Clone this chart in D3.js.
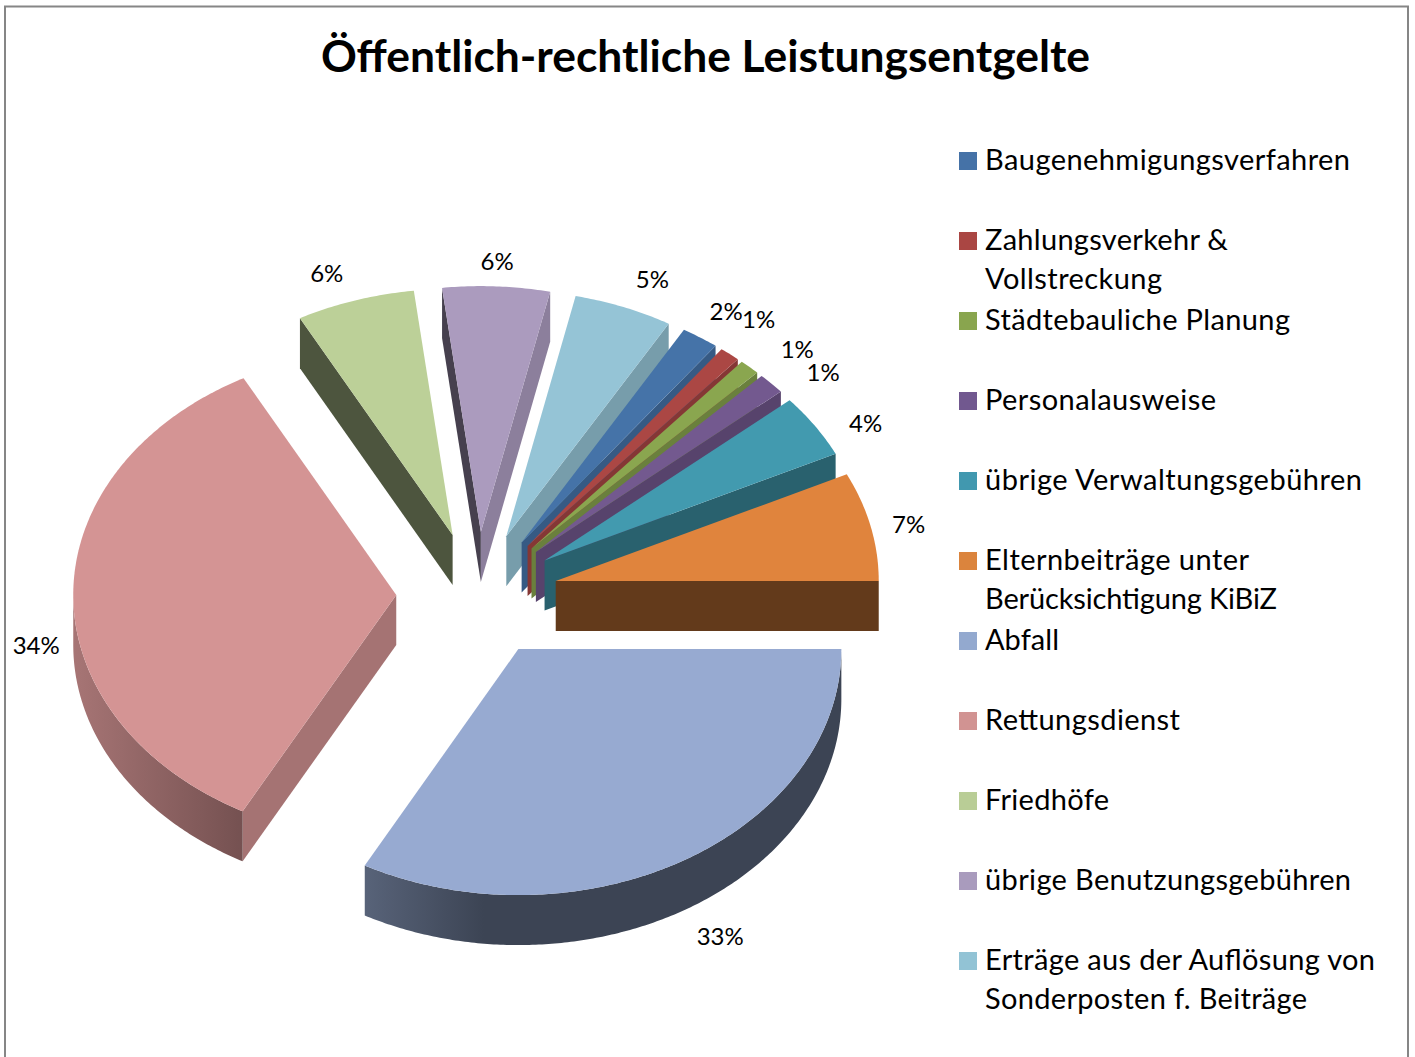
<!DOCTYPE html>
<html><head><meta charset="utf-8">
<script src="https://cdnjs.cloudflare.com/ajax/libs/d3/7.8.5/d3.min.js"></script>
<style>html,body{margin:0;padding:0;background:#fff;overflow:hidden}svg{display:block}
text{font-family:Lato,"Open Sans",sans-serif;fill:#000}</style></head><body>
<svg id="c" width="1415" height="1057"></svg>
<script>
const titleText = "Öffentlich-rechtliche Leistungsentgelte";
const categories = [["Baugenehmigungsverfahren"],["Zahlungsverkehr &","Vollstreckung"],["Städtebauliche Planung"],["Personalausweise"],["übrige Verwaltungsgebühren"],["Elternbeiträge unter","Berücksichtigung KiBiZ"],["Abfall"],["Rettungsdienst"],["Friedhöfe"],["übrige Benutzungsgebühren"],["Erträge aus der Auflösung von","Sonderposten f. Beiträge"]];
const legendWidths = [[365],[243,177],[305],[231],[377],[264,292],[74],[195],[124],[366],[390,322]];
const values = [1.87,1.03,1.03,1.39,4.16,7.14,32.89,34.28,5.92,5.36,4.94];
const pctLabels = ["2%","1%","1%","1%","4%","7%","33%","34%","6%","6%","5%"];
const legendColors = ["#4572a7","#aa4643","#89a54e","#71588f","#4198af","#db843d","#93a9cf","#d19392","#b9cd96","#a99bbd","#92c3d5"];
const topColors = ["#4573a8","#ab4744","#8aa64f","#73598f","#429aaf","#e0843d","#97aad1","#d49494","#bcd098","#ab9bbe","#95c4d6"];
const labelNudges = [[5,-4],[5,-15],[22,1],[24,6],[19,11],[1,3],[17,2],[1,0],[-17,-2],[-1,1],[15,-3]];
const wallAngles = [12,30,49,64,90,208,331,353];
const wallShades = [.82,.8,.76,.63,.44,.78,.41,.41];
const outerStops = {6:[[0,.58],[.25,.40],[1,.40]],7:[[0,.79],[1,.55]]};

const cx=477,cy=595,rx=323,ry=246,depth=50,explodeX=.25,explodeY=.256;
const svg=d3.select("#c"), defs=svg.append("defs");
const X=d3.scaleLinear().domain([-1,1]).range([cx-rx,cx+rx]);
const Y=d3.scaleLinear().domain([-1,1]).range([cy-ry,cy+ry]);
const shade=d3.scaleLinear().domain(wallAngles).range(wallShades).clamp(true);
const tint=(c,k)=>d3.interpolateRgb("#000",c)(k);
const deg=r=>((r*180/Math.PI)%360+360)%360;

svg.append("rect").attr("x",5).attr("y",6.5).attr("width",1403).attr("height",1100).attr("fill","#fff").attr("stroke","#868686").attr("stroke-width",2);
svg.append("text").attr("x",321).attr("y",72).attr("font-size",44.4).attr("font-weight",700).attr("textLength",769).attr("lengthAdjust","spacing").text(titleText);

const total=d3.sum(values);
const before=d3.sum(values.slice(0,6))/total*2*Math.PI;
const start=Math.PI/2-before;
const arcs=d3.pie().sort(null).startAngle(start).endAngle(start+2*Math.PI)(values);
arcs.forEach(a=>{a.mid=(a.startAngle+a.endAngle)/2;a.ox=Math.sin(a.mid)*explodeX;a.oy=-Math.cos(a.mid)*explodeY;});
const pt=(a,t,r=1,dz=0)=>[X(a.ox+Math.sin(t)*r),Y(a.oy-Math.cos(t)*r)+dz];
const line=d3.line();
const sample=(a,b)=>{const n=Math.max(2,Math.ceil((b-a)/0.01));return d3.range(n+1).map(i=>a+(b-a)*i/n);};

const order=arcs.slice().sort((p,q)=>p.oy-q.oy);
const g=svg.append("g");
order.forEach(a=>{
  const col=topColors[a.index];
  const wall=t=>{
    g.append("path").attr("d",line([pt(a,t,0),pt(a,t),pt(a,t,1,depth),pt(a,t,0,depth)])+"Z").attr("fill",tint(col,shade(deg(t))));
  };
  if(Math.sin(a.startAngle)<0) wall(a.startAngle);
  if(Math.sin(a.endAngle)>0) wall(a.endAngle);
  const lo=Math.max(a.startAngle,Math.PI/2), hi=Math.min(a.endAngle,3*Math.PI/2);
  if(hi>lo){
    const ts=sample(lo,hi);
    const pts=ts.map(t=>pt(a,t)).concat(ts.slice().reverse().map(t=>pt(a,t,1,depth)));
    const xs=d3.extent(pts,p=>p[0]);
    const id="o"+a.index;
    const gr=defs.append("linearGradient").attr("id",id).attr("gradientUnits","userSpaceOnUse").attr("x1",xs[0]).attr("x2",xs[1]).attr("y1",0).attr("y2",0);
    (outerStops[a.index]||[[0,.5],[1,.5]]).forEach(s=>gr.append("stop").attr("offset",s[0]).attr("stop-color",tint(col,s[1])));
    g.append("path").attr("d",line(pts)+"Z").attr("fill",`url(#${id})`);
  }
  const top=[pt(a,a.mid,0)].concat(sample(a.startAngle,a.endAngle).map(t=>pt(a,t)));
  g.append("path").attr("d",line(top)+"Z").attr("fill",col);
});

arcs.forEach(a=>{
  const p=pt(a,a.mid), s=Math.sin(a.mid), c=Math.cos(a.mid);
  const n=labelNudges[a.index];
  g.append("text").attr("x",p[0]+s*38+n[0]).attr("y",p[1]-c*27+(c<=0.01?depth:0)+n[1])
   .attr("text-anchor","middle").attr("dominant-baseline","central").attr("font-size",24).text(pctLabels[a.index]);
});

const leg=svg.append("g");
categories.forEach((lines,i)=>{
  const y=160+i*80;
  leg.append("rect").attr("x",959).attr("y",y-8).attr("width",18).attr("height",18).attr("fill",legendColors[i]);
  lines.forEach((l,j)=>leg.append("text").attr("x",985).attr("y",y+10+j*39).attr("font-size",29).attr("textLength",legendWidths[i][j]).attr("lengthAdjust","spacing").text(l));
});
</script></body></html>
